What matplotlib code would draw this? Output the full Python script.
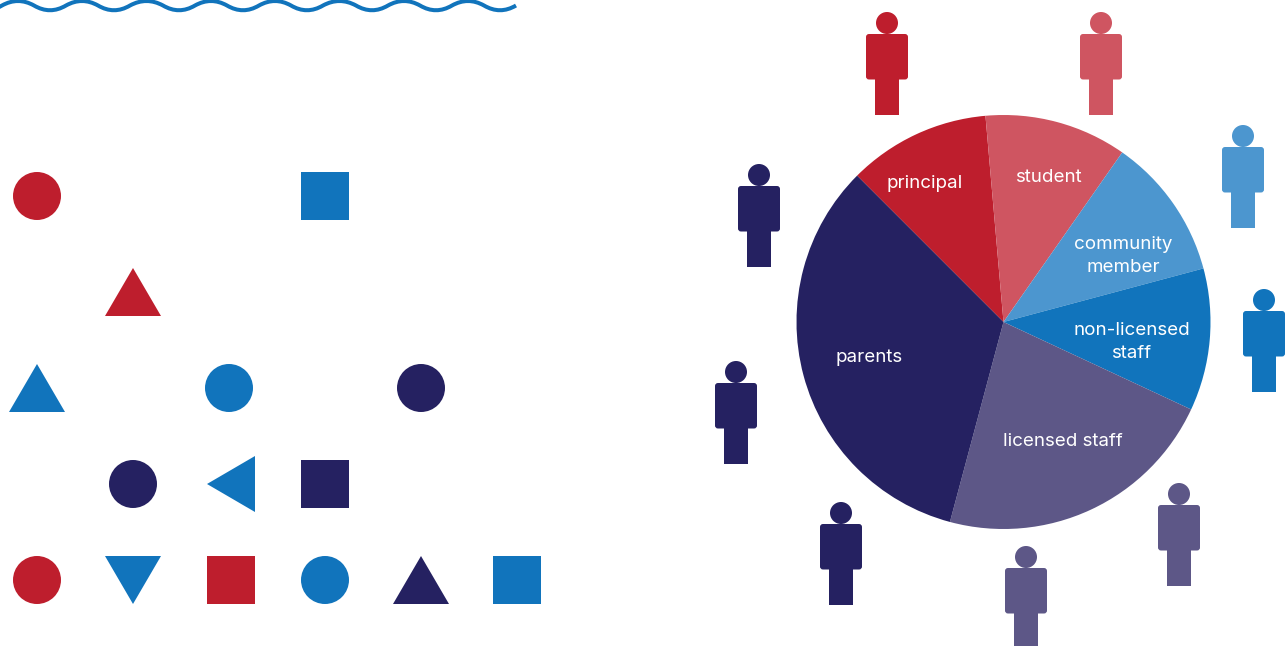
import matplotlib
matplotlib.use('Agg')
import matplotlib.pyplot as plt
from matplotlib.patches import Circle, Rectangle, Polygon, FancyBboxPatch, PathPatch
from matplotlib.path import Path

plt.rcParams['font.family'] = ['Inter', 'DejaVu Sans']

RED = '#BE1E2D'
LIGHT_RED = '#CF5561'
LIGHT_BLUE = '#4C96CF'
BLUE = '#1174BC'
PURPLE = '#5D5787'
NAVY = '#252161'

# pie slices, clockwise from the parents/principal edge
groups = ['principal', 'student', 'community\nmember', 'non-licensed\nstaff', 'licensed staff', 'parents']
group_counts = [1, 1, 1, 1, 2, 3]
group_colors = [RED, LIGHT_RED, LIGHT_BLUE, BLUE, PURPLE, NAVY]

# one figure per person, head position in pixels
person_x = [887, 1101, 1243, 1264, 1179, 1026, 841, 736, 759]
person_y = [23, 23, 136, 300, 494, 557, 513, 372, 175]
person_colors = [RED, LIGHT_RED, LIGHT_BLUE, BLUE, PURPLE, PURPLE, NAVY, NAVY, NAVY]

# symbols on the left, centre positions in pixels
shape_kinds = ['circle', 'square', 'up', 'up', 'circle', 'circle', 'circle', 'left', 'square',
               'circle', 'down', 'square', 'circle', 'up', 'square']
shape_x = [37, 325, 133, 37, 229, 421, 133, 229, 325, 37, 133, 231, 325, 421, 517]
shape_y = [196, 196, 292, 388, 388, 388, 484, 484, 484, 580, 580, 580, 580, 580, 580]
shape_colors = [RED, BLUE, RED, BLUE, BLUE, NAVY, NAVY, BLUE, NAVY, RED, BLUE, RED, BLUE, NAVY, BLUE]

wave_troughs = [-14, 50, 114, 179, 243, 307, 372, 436, 500]


def draw_shape(ax, kind, cx, cy, color):
    if kind == 'circle':
        ax.add_patch(Circle((cx, cy), 24, fc=color, ec='none'))
    elif kind == 'square':
        ax.add_patch(Rectangle((cx - 24, cy - 24), 48, 48, fc=color, ec='none'))
    elif kind == 'up':
        ax.add_patch(Polygon([(cx - 28, cy + 24), (cx + 28, cy + 24), (cx, cy - 24)], fc=color, ec='none'))
    elif kind == 'down':
        ax.add_patch(Polygon([(cx - 28, cy - 24), (cx + 28, cy - 24), (cx, cy + 24)], fc=color, ec='none'))
    elif kind == 'left':
        ax.add_patch(Polygon([(cx + 26, cy - 28), (cx + 26, cy + 28), (cx - 22, cy)], fc=color, ec='none'))


def draw_person(ax, x, y, color):
    ax.add_patch(Circle((x, y), 11, fc=color, ec='none'))
    ax.add_patch(FancyBboxPatch((x - 18, y + 14), 36, 39.5, boxstyle='round,pad=3,rounding_size=3',
                                fc=color, ec='none'))
    ax.add_patch(Rectangle((x - 12, y + 50), 24, 41.5, fc=color, ec='none'))


def draw_wave(ax, troughs):
    half = (troughs[1] - troughs[0]) / 4
    verts = [(troughs[0] - half, 5.5)]
    codes = [Path.MOVETO]
    for i, t in enumerate(troughs):
        verts += [(t, 15), (t + half, 5.5)]
        codes += [Path.CURVE3, Path.CURVE3]
        if i < len(troughs) - 1:
            crest = (t + troughs[i + 1]) / 2
            verts += [(crest, -3.5), (troughs[i + 1] - half, 5.5)]
            codes += [Path.CURVE3, Path.CURVE3]
    ax.add_patch(PathPatch(Path(verts, codes), fc='none', ec=BLUE, lw=2.9, capstyle='butt'))


fig = plt.figure(figsize=(12.86, 6.46), dpi=100)
ax = fig.add_axes([0, 0, 1, 1])

# y runs downward here, so counterclock in data reads clockwise on screen
wedges, _ = ax.pie(group_counts, colors=group_colors, center=(1003.5, 322), radius=207,
                   startangle=-135, counterclock=True,
                   wedgeprops={'edgecolor': 'none'})
ax.set_xlim(0, 1286)
ax.set_ylim(646, 0)
ax.set_aspect('equal')
ax.axis('off')

label_x = [925, 1048.5, 1123, 1131.5, 1063, 869]
label_y = [184, 177, 256, 342, 441, 357]
for name, lx, ly in zip(groups, label_x, label_y):
    ax.text(lx, ly, name, color='white', fontsize=13.5, ha='center', va='center', linespacing=1.5)

for x, y, c in zip(person_x, person_y, person_colors):
    draw_person(ax, x, y, c)

for kind, sx, sy, c in zip(shape_kinds, shape_x, shape_y, shape_colors):
    draw_shape(ax, kind, sx, sy, c)

draw_wave(ax, wave_troughs)

fig.savefig('out.png', dpi=100)
